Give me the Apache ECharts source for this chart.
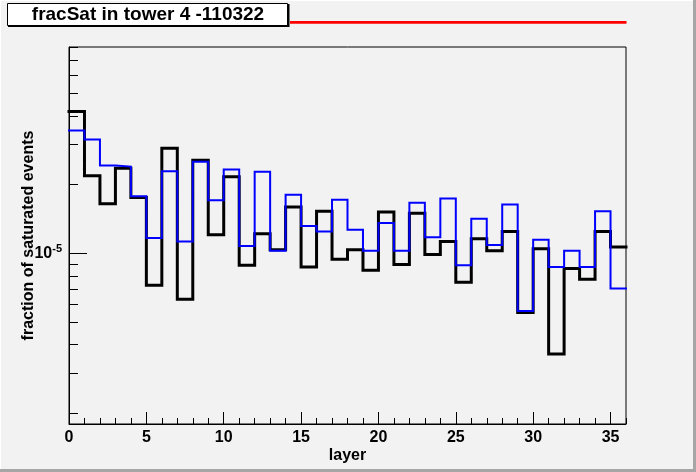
<!DOCTYPE html>
<html>
<head>
<meta charset="utf-8">
<script src="https://cdn.jsdelivr.net/npm/echarts@6/dist/echarts.min.js"></script>
<style>
  html, body { margin: 0; padding: 0; background: #f2f2f2; }
  #main { width: 696px; height: 472px; }
</style>
</head>
<body>
<div id="main"></div>
<script>
// layer bins 0..35
const layers = [];
for (let i = 0; i <= 36; i++) layers.push(i);

// black histogram
const fracBlack = [
  4.18e-5, 2.19e-5, 1.65e-5, 2.36e-5, 1.76e-5, 7.27e-6, 2.89e-5, 6.32e-6, 2.56e-5, 1.21e-5,
  2.17e-5, 8.89e-6, 1.22e-5, 1.04e-5, 1.60e-5, 8.74e-6, 1.53e-5, 9.44e-6, 1.04e-5, 8.46e-6,
  1.52e-5, 8.96e-6, 1.50e-5, 9.90e-6, 1.13e-5, 7.50e-6, 1.16e-5, 1.03e-5, 1.25e-5, 5.53e-6,
  1.05e-5, 3.64e-6, 8.60e-6, 7.73e-6, 1.25e-5, 1.07e-5
];
// blue histogram
const fracBlue = [
  3.45e-5, 3.15e-5, 2.43e-5, 2.40e-5, 1.78e-5, 1.17e-5, 2.29e-5, 1.13e-5, 2.52e-5, 1.71e-5,
  2.33e-5, 1.08e-5, 2.28e-5, 1.03e-5, 1.81e-5, 1.32e-5, 1.25e-5, 1.72e-5, 1.27e-5, 1.03e-5,
  1.36e-5, 1.03e-5, 1.67e-5, 1.18e-5, 1.74e-5, 8.89e-6, 1.42e-5, 1.09e-5, 1.64e-5, 5.61e-6,
  1.15e-5, 8.74e-6, 1.03e-5, 8.74e-6, 1.53e-5, 7.04e-6
];

const xTickLabels = [0, 5, 10, 15, 20, 25, 30, 35];
const yMin = 1.8e-6, yMax = 8e-5;
// minor log ticks 2..9 x 10^-6 and 2..8 x 10^-5
const yMinorTicks = [2, 3, 4, 5, 6, 7, 8, 9].map(k => k * 1e-6)
  .concat([2, 3, 4, 5, 6, 7, 8].map(k => k * 1e-5));

// step histogram: left edge of each bin, plus closing point at the right edge
function histData(vals) {
  const d = vals.map((v, i) => [layers[i], v]);
  d.push([layers[vals.length], vals[vals.length - 1]]);
  return d;
}

const font = 'Liberation Sans';
const chart = echarts.init(document.getElementById('main'), null, { renderer: 'canvas' });

const gridBox = { left: 69, right: 70, top: 47, bottom: 48 };

const option = {
  animation: false,
  backgroundColor: '#f2f2f2',
  grid: [
    Object.assign({ show: true, borderColor: '#000', borderWidth: 1, backgroundColor: '#f2f2f2' }, gridBox),
    Object.assign({ show: false }, gridBox)
  ],
  xAxis: [{
    type: 'value', gridIndex: 0, min: 0, max: 36, interval: 5,
    name: 'layer', nameLocation: 'middle', nameGap: 24, nameMoveOverlap: false,
    nameTextStyle: { fontFamily: font, fontWeight: 'bold', fontSize: 16, color: '#000' },
    axisLine: { lineStyle: { color: '#000', width: 1 } },
    axisTick: { inside: true, length: 12, lineStyle: { color: '#000' } },
    axisLabel: {
      fontFamily: font, fontWeight: 'bold', fontSize: 16, color: '#000', margin: 6,
      showMaxLabel: false,
      formatter: v => xTickLabels.indexOf(v) >= 0 ? String(v) : ''
    },
    splitLine: { show: false }
  }, {
    type: 'value', gridIndex: 1, min: 0, max: 36, interval: 1,
    axisLine: { show: false },
    axisTick: { inside: true, length: 6, lineStyle: { color: '#000' } },
    axisLabel: { show: false },
    splitLine: { show: false }
  }],
  yAxis: [{
    type: 'log', gridIndex: 0, logBase: 10, min: yMin, max: yMax,
    name: 'fraction of saturated events', nameLocation: 'middle', nameGap: 32, nameRotate: 90,
    nameMoveOverlap: false,
    nameTextStyle: { fontFamily: font, fontWeight: 'bold', fontSize: 16, color: '#000' },
    axisLine: { show: true, lineStyle: { color: '#000', width: 1 } },
    axisTick: { inside: true, length: 18, lineStyle: { color: '#000' } },
    axisLabel: {
      margin: 7, showMinLabel: false, showMaxLabel: false,
      formatter: v => Math.abs(Math.log10(v) + 5) < 1e-6 ? '{b|10}{s|-5}' : '',
      rich: {
        b: { fontFamily: font, fontWeight: 'bold', fontSize: 16, color: '#000', lineHeight: 20 },
        s: { fontFamily: font, fontWeight: 'bold', fontSize: 11, color: '#000', verticalAlign: 'top', lineHeight: 12 }
      }
    },
    splitLine: { show: false }
  }, {
    type: 'value', gridIndex: 1, min: Math.log10(yMin), max: Math.log10(yMax),
    axisLine: { show: false },
    axisTick: { inside: true, length: 9, lineStyle: { color: '#000' },
      customValues: yMinorTicks.map(v => Math.log10(v)) },
    axisLabel: { show: false },
    splitLine: { show: false }
  }],
  series: [{
    type: 'line', xAxisIndex: 0, yAxisIndex: 0, step: 'end',
    showSymbol: false, symbol: 'none',
    lineStyle: { color: '#000', width: 3, join: 'miter', cap: 'square' },
    data: histData(fracBlack), z: 3
  }, {
    type: 'line', xAxisIndex: 0, yAxisIndex: 0, step: 'end',
    showSymbol: false, symbol: 'none',
    lineStyle: { color: '#0000ff', width: 2, join: 'miter', cap: 'square' },
    data: histData(fracBlue), z: 4
  }],
  graphic: [
    // canvas bevel
    { type: 'rect', shape: { x: 0, y: 0, width: 696, height: 1 }, style: { fill: '#ffffff' }, silent: true },
    { type: 'rect', shape: { x: 0, y: 0, width: 1, height: 472 }, style: { fill: '#ffffff' }, silent: true },
    { type: 'rect', shape: { x: 693, y: 0, width: 3, height: 472 }, style: { fill: '#a6a6a6' }, silent: true },
    { type: 'rect', shape: { x: 0, y: 469, width: 696, height: 3 }, style: { fill: '#a6a6a6' }, silent: true },
    // title box with shadow
    { type: 'rect', shape: { x: 8, y: 4, width: 281.5, height: 23 }, style: { fill: '#000' }, silent: true },
    { type: 'rect', shape: { x: 7.5, y: 3.5, width: 280, height: 22 }, style: { fill: '#fff', stroke: '#000', lineWidth: 1 }, silent: true },
    { type: 'text', x: 148, y: 15, silent: true,
      style: { text: 'fracSat in tower 4 -110322', fontFamily: font, fontWeight: 'bold', fontSize: 19,
        fill: '#000', align: 'center', verticalAlign: 'middle' } },
    // red line
    { type: 'line', shape: { x1: 290, y1: 22.3, x2: 626.5, y2: 22.3 }, style: { stroke: '#ff0000', lineWidth: 2.7 }, silent: true }
  ]
};

chart.setOption(option);
</script>
</body>
</html>
